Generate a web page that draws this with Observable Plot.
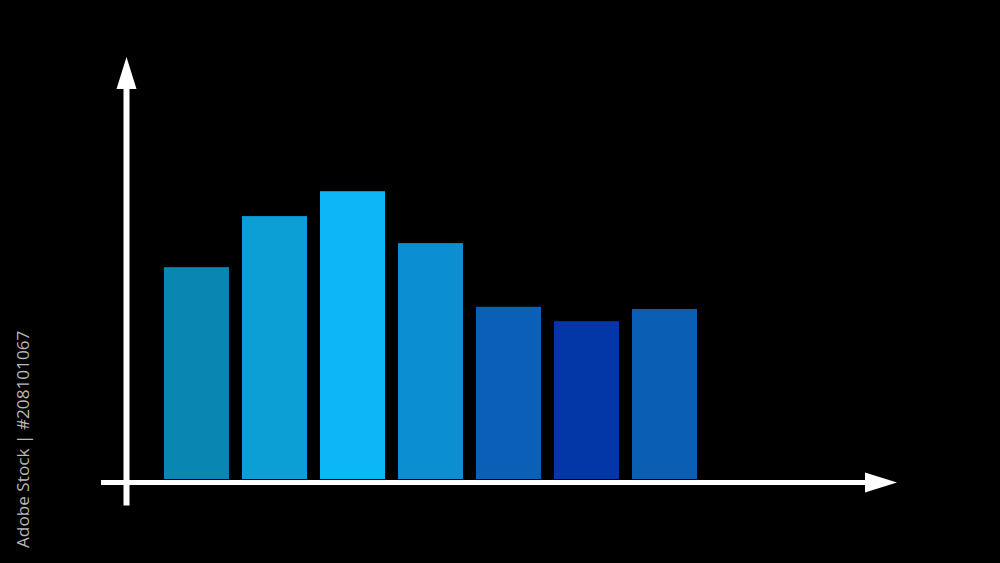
<!DOCTYPE html>
<html>
<head>
<meta charset="utf-8">
<script src="https://cdn.jsdelivr.net/npm/d3@7"></script>
<script src="https://cdn.jsdelivr.net/npm/@observablehq/plot@0.6"></script>
<style>
  html, body { margin: 0; padding: 0; background: #000; }
  #chart { width: 1000px; height: 563px; overflow: hidden; }
</style>
</head>
<body>
<div id="chart"></div>
<script>
// ---- data ----
const categories = ["A", "B", "C", "D", "E", "F", "G"];
const values = [50.2, 62.3, 68.2, 55.9, 40.8, 37.4, 40.3];
const barColors = ["#0A86B2", "#0C9FD5", "#0DB6F6", "#0B8FD2", "#0A60B7", "#0336A7", "#0A5EB4"];
const idLabel = "Adobe Stock | #208101067";

const data = categories.map((c, i) => ({cat: c, value: values[i], color: barColors[i]}));

// ---- axes with arrowheads (decoration drawn from scales & frame) ----
function arrowAxes(index, scales, values_, dims) {
  const g = d3.create("svg:g");
  const y0 = scales.y(0);
  const axW = 5;
  const xAxisY = y0 + 3.5;
  const xStart = dims.marginLeft;
  const xTip = dims.width - dims.marginRight;
  const yAxisX = dims.marginLeft + 25.5;
  const yTip = dims.marginTop;
  const headLen = 32, headHalf = 10;
  // x axis
  g.append("line").attr("x1", xStart).attr("x2", xTip - headLen + 2)
    .attr("y1", xAxisY).attr("y2", xAxisY)
    .attr("stroke", "#fff").attr("stroke-width", axW);
  g.append("path")
    .attr("d", `M${xTip},${xAxisY} L${xTip - headLen},${xAxisY - headHalf} L${xTip - headLen},${xAxisY + headHalf} Z`)
    .attr("fill", "#fff");
  // y axis
  g.append("line").attr("x1", yAxisX).attr("x2", yAxisX)
    .attr("y1", xAxisY + 23).attr("y2", yTip + headLen - 2)
    .attr("stroke", "#fff").attr("stroke-width", axW + 1);
  g.append("path")
    .attr("d", `M${yAxisX},${yTip} L${yAxisX - headHalf},${yTip + headLen} L${yAxisX + headHalf},${yTip + headLen} Z`)
    .attr("fill", "#fff");
  // vertical id label
  g.append("text")
    .attr("transform", `translate(28.5, ${dims.height - 15}) rotate(-90)`)
    .attr("text-anchor", "start")
    .attr("fill", "#b8b8b8")
    .attr("font-family", "'Open Sans', 'DejaVu Sans', sans-serif")
    .attr("font-size", 17.2)
    .text(idLabel);
  return g.node();
}

const chart = Plot.plot({
  width: 1000,
  height: 563,
  marginTop: 57,
  marginBottom: 84,
  marginLeft: 101,
  marginRight: 103,
  style: {background: "#000"},
  x: {type: "band", domain: categories, range: [164, 697], paddingInner: 13 / 78, paddingOuter: 0, axis: null},
  y: {domain: [0, 100], axis: null},
  marks: [
    Plot.barY(data, {x: "cat", y: "value", fill: "color"}),
    arrowAxes
  ]
});

document.getElementById("chart").appendChild(chart);
</script>
</body>
</html>
